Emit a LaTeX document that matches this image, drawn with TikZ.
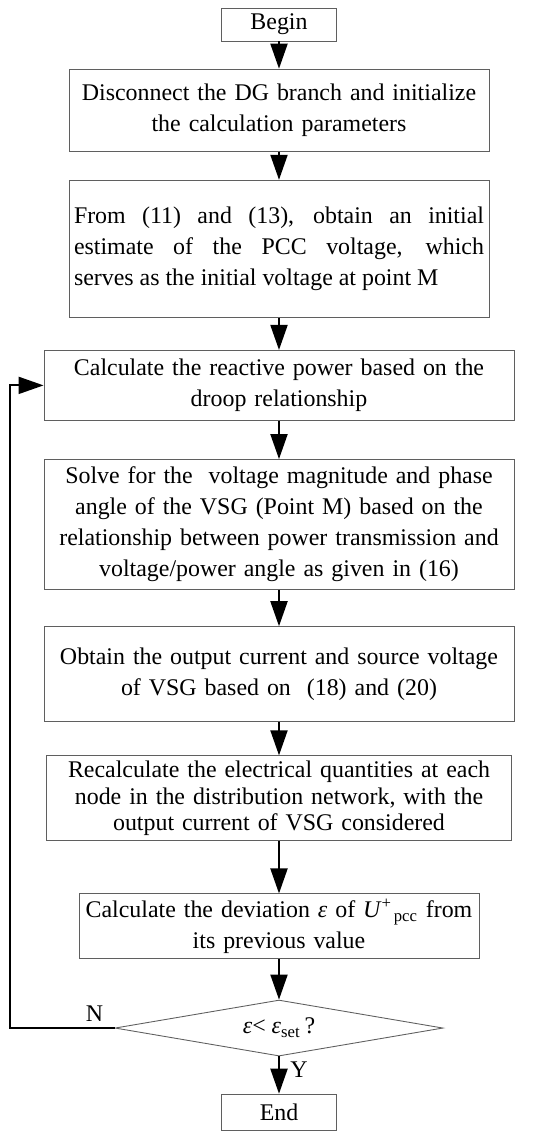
\documentclass[tikz,border=0pt]{standalone}
\usepackage{fontspec}
\setmainfont{Liberation Serif}
\usepackage{tikz}
\usetikzlibrary{shapes.geometric, arrows.meta, positioning, calc}
\definecolor{frame}{RGB}{95,95,95}

\begin{document}
\begin{tikzpicture}[
    node distance=0.6cm,
    box/.style={rectangle, draw=frame, line width=0.5pt, minimum width=8.4cm, text width=8.1cm, inner xsep=0.15cm, inner ysep=0.05cm, align=center, font=\fontsize{13.6}{17.6}\selectfont},
    widebox/.style={box, minimum width=9.4cm, text width=9.1cm},
    term/.style={rectangle, draw=frame, line width=0.5pt, minimum width=2.3cm, minimum height=0.66cm, inner sep=0pt, font=\fontsize{13.6}{17.6}\selectfont},
    decision/.style={diamond, draw=frame, line width=0.5pt, minimum width=6.56cm, minimum height=1.12cm, shape aspect=5.86, inner sep=0pt, font=\fontsize{13.6}{17.6}\selectfont},
    lbl/.style={font=\fontsize{13.6}{17.6}\selectfont, inner sep=0pt},
    arrow/.style={-{Triangle[length=0.5cm,width=0.34cm]}, line width=1.1pt}
]
\useasboundingbox (0,0) rectangle (11,-22.78);

% Start and set-up
\node[term] (begin) at (5.58,-0.49) {Begin};
\node[box, below=0.545cm of begin, minimum height=1.64cm] (init) {Disconnect the DG branch and initialize\\the calculation parameters};
\node[box, below=0.565cm of init, minimum height=2.74cm, text width=8.2cm, inner xsep=0.1cm, align=justify] (est) {From (11) and (13), obtain an initial\linebreak estimate of the PCC voltage, which\linebreak serves as the initial voltage at point M};

% Iteration
\node[widebox, below=0.645cm of est, minimum height=1.4cm] (react) {Calculate the reactive power based on the\\droop relationship};
\node[widebox, below=0.765cm of react, minimum height=2.6cm] (solve) {Solve for the~ voltage magnitude and phase\\angle of the VSG (Point M) based on the\\relationship between power transmission and\\voltage/power angle as given in (16)};
\node[widebox, below=0.725cm of solve, minimum height=1.9cm] (output) {Obtain the output current and source voltage\\of VSG based on~ (18) and (20)};
\node[widebox, below=0.665cm of output, minimum height=1.7cm, minimum width=9.3cm, text width=9cm, font=\fontsize{13.6}{15.2}\selectfont] (recalc) {Recalculate the electrical quantities at each\\node in the distribution network, with the\\output current of VSG considered};
\node[box, below=1.045cm of recalc, minimum height=1.3cm, minimum width=8cm, text width=7.9cm, inner xsep=0.05cm] (dev) {Calculate the deviation \textit{ε} of \textit{U}\textsuperscript{+}\kern1pt\textsubscript{pcc} from\\its previous value};

% Convergence check
\node[decision, below=0.805cm of dev] (check) {\textit{ε}< \textit{ε}\textsubscript{set}\,?};
\node[term, below=0.745cm of check, minimum height=0.72cm] (end) {End};

% Arrows
\draw[arrow] (begin) -- (init);
\draw[arrow] (init) -- (est);
\draw[arrow] (est) -- (react);
\draw[arrow] (react) -- (solve);
\draw[arrow] (solve) -- (output);
\draw[arrow] (output) -- (recalc);
\draw[arrow] (recalc) -- (dev);
\draw[arrow] (dev) -- (check);
\draw[arrow] (check) -- (end);
\draw[arrow] (check.west) -- ++(-2.1,0) |- (react.west);

% Labels
\node[lbl] (nlab) at ([xshift=-0.4cm, yshift=0.28cm]check.west) {N};
\node[lbl] (ylab) at ([xshift=0.4cm, yshift=-0.26cm]check.south) {Y};

\end{tikzpicture}
\end{document}
